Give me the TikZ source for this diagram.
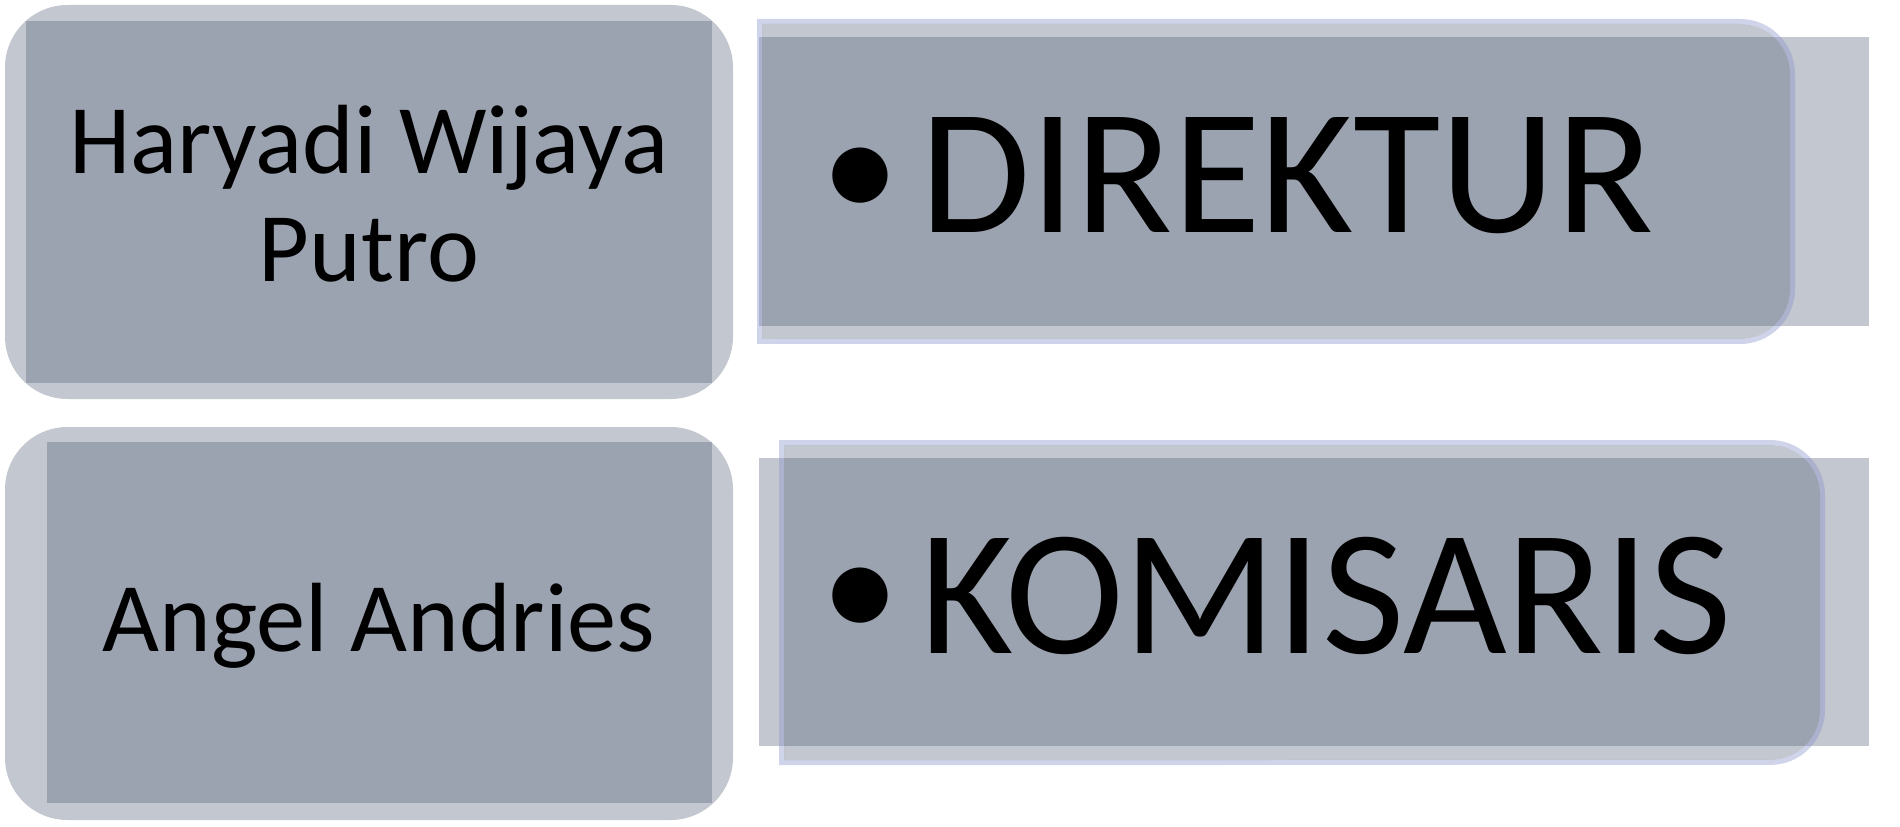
\documentclass[tikz,border=0pt]{standalone}
\usepackage{fontspec}
\setmainfont{Carlito}
\definecolor{slate}{RGB}{84,95,118}
\definecolor{lavender}{RGB}{137,147,202}

\begin{document}
\begin{tikzpicture}[x=0.02cm, y=0.02cm,
    boxfill/.style={fill=slate, fill opacity=.35},
    rim/.style={draw=lavender, draw opacity=.4, line width=0.1cm},
    person/.style={inner sep=0, align=center, font=\fontsize{56}{62}\selectfont},
    jobtext/.style={inner sep=0, font=\fontsize{102}{110}\selectfont},
    dot/.style={inner sep=0, font=\fontsize{89}{96}\selectfont}]
  \useasboundingbox (0,0) rectangle (1900,826);

  % names on the left
  \fill[boxfill, rounded corners=1.25cm] (5,427) rectangle (733,821);
  \fill[boxfill] (26,443) rectangle (712,805);
  \fill[boxfill, rounded corners=1.25cm] (5,6) rectangle (733,399);
  \fill[boxfill] (47,23) rectangle (712,384);

  % posts on the right
  \foreach \ya/\yb in {500/789, 80/368} {
      \fill[boxfill] (759,\ya) rectangle (1869,\yb);
    }
  \foreach \xa/\xb/\ya/\yb in {757/1795/482/807, 779/1825/61/386} {
      \fill[boxfill] ({\xa+5},{\ya+5}) -- ({\xa+5},{\yb-5}) -- ({\xb-55},{\yb-5})
        arc (90:0:1cm) -- ({\xb-5},{\ya+55}) arc (0:-90:1cm) -- cycle;
      \draw[rim] ({\xa+2.5},{\ya+2.5}) -- ({\xa+2.5},{\yb-2.5}) -- ({\xb-55},{\yb-2.5})
        arc (90:0:1.05cm) -- ({\xb-2.5},{\ya+55}) arc (0:-90:1.05cm) -- cycle;
    }

  \node[person, anchor=base] (hwp) at (369,544) {Haryadi Wijaya\\Putro};
  \node[person, anchor=base] (aa) at (379,175) {Angel Andries};

  \node[dot] (bdir) at (860,642) {•};
  \node[jobtext, anchor=base west] (dir) at (920,593) {DIREKTUR};
  \node[dot] (bkom) at (860,222) {•};
  \node[jobtext, anchor=base west] (kom) at (920,173) {KOMISARIS};
\end{tikzpicture}
\end{document}
